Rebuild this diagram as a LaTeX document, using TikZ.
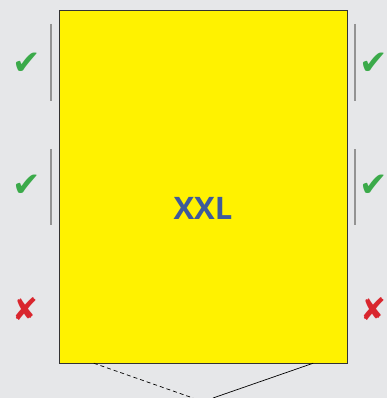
\documentclass[tikz,border=0pt]{standalone}
\usepackage{fontspec}
\newfontfamily\symfont{DejaVu Sans}
\newfontfamily\labelfont{Open Sans}
\usetikzlibrary{positioning,calc}
\definecolor{bg}{HTML}{E6E7E9}
\definecolor{size}{HTML}{FFF200}
\definecolor{okgreen}{HTML}{3BAA4A}
\definecolor{nored}{HTML}{D9262E}
\definecolor{textblue}{HTML}{3E5A9A}
\tikzset{
  ok/.style={text=okgreen,font=\symfont\fontsize{34}{34}\selectfont,inner sep=0pt},
  no/.style={text=nored,font=\symfont\fontsize{31}{31}\selectfont,inner sep=0pt},
  bar/.style={draw=gray!85,line width=1.6pt}
}
\begin{document}
\begin{tikzpicture}[x=1pt,y=-1pt]
  \fill[bg] (0,0) rectangle (387,398);
  \useasboundingbox (0,0) rectangle (387,398);
  \node[draw=black!80,fill=size,minimum width=288pt,minimum height=353pt,inner sep=0pt] (sheet) at (203,186.5) {};
  \node[text=textblue,font=\labelfont\bfseries\fontsize{31}{31}\selectfont] (xxl) at (203,208) {XXL};

  \node[ok] (l1) at (27,64) {✔};
  \node[ok] (l2) at (27,186) {✔};
  \node[no] (l3) at (25,309) {✘};
  \node[ok] (r1) at (374,64) {✔};
  \node[ok] (r2) at (374,186) {✔};
  \node[no] (r3) at (373,309) {✘};

  \draw[bar] (51,24) -- (51,101);
  \draw[bar] (51,149) -- (51,225);
  \draw[bar] (355,24) -- (355,101);
  \draw[bar] (355,149) -- (355,225);

  \coordinate (fl) at (193,398);
  \coordinate (fr) at (213,398);
  \draw[dash pattern=on 4pt off 3pt,line width=0.7pt] ($(sheet.south west)+(35,0)$) -- (fl);
  \draw[line width=0.7pt] ($(sheet.south east)+(-34,0)$) -- (fr);
\end{tikzpicture}
\end{document}
